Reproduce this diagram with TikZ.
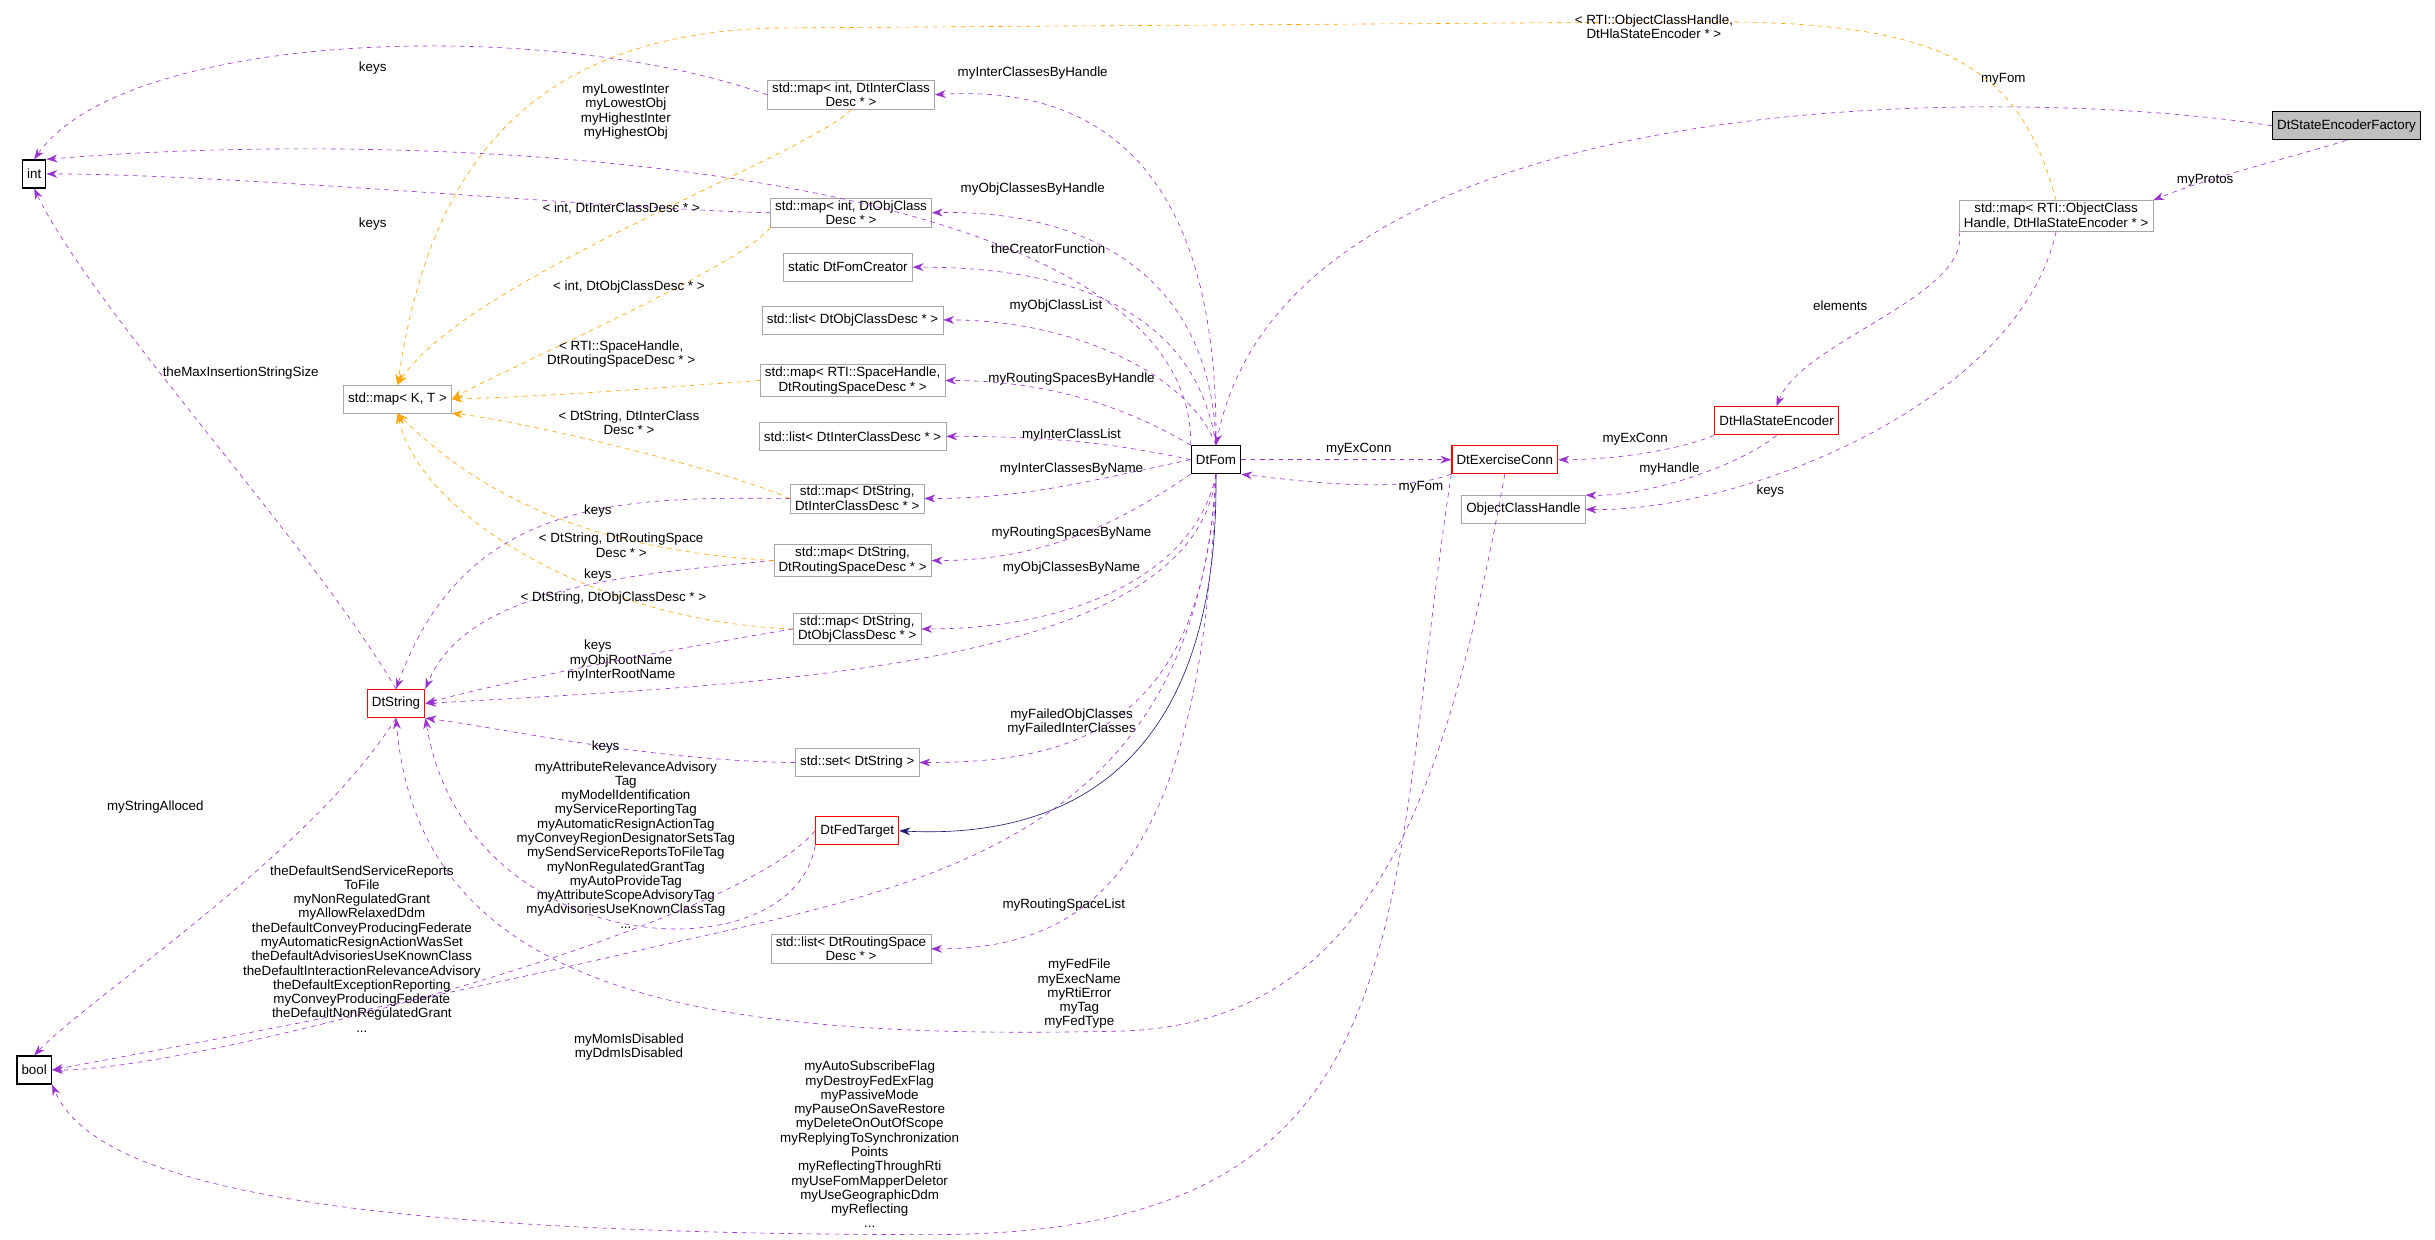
\documentclass[tikz,border=0pt]{standalone}
\usepackage{fontspec}
\setmainfont{Liberation Sans}
\usetikzlibrary{arrows.meta}
\definecolor{depcol}{HTML}{9A32CD}
\definecolor{tplcol}{HTML}{FFA500}
\definecolor{inhcol}{HTML}{191970}
\tikzset{
  box/.style={draw=black!35,inner xsep=3pt,inner ysep=1.5pt,minimum height=18pt,align=center,font=\fontsize{8.6}{9.4}\selectfont},
  cls/.style={box,draw=black,thick},
  red box/.style={box,draw=red,thick},
  lbl/.style={align=center,font=\fontsize{8.6}{9.2}\selectfont,inner sep=0pt},
  dep/.style={depcol,dashed,thin,-{Stealth[length=7pt,width=5pt]}},
  tpl/.style={tplcol,dashed,thin,-{Stealth[length=7pt,width=5pt]}},
  inh/.style={inhcol,thin,-{Stealth[length=7pt,width=5pt]}},
}
\begin{document}
\begin{tikzpicture}[x=1pt,y=-1pt]
\useasboundingbox (0,0) rectangle (1568,798);
% classes
\node[cls,fill=black!25] (fac) at (1511,81) {DtStateEncoderFactory};
\node[cls] (int) at (22,112) {int};
\node[cls] (bool) at (22,689) {bool};
\node[cls] (fom) at (783,296) {DtFom};
\node[red box] (ex) at (969,296) {DtExerciseConn};
\node[red box] (hla) at (1144,271) {DtHlaStateEncoder};
\node[red box] (dstr) at (255,453) {DtString};
\node[red box] (fed) at (552,535) {DtFedTarget};
\node[box] (och) at (981,328) {ObjectClassHandle};
\node[box] (protos) at (1324,139) {std::map\textless{} RTI::ObjectClass\\Handle, DtHlaStateEncoder * \textgreater};
\node[box] (kt) at (256,257) {std::map\textless{} K, T \textgreater};
\node[box] (mi) at (548,61) {std::map\textless{} int, DtInterClass\\Desc * \textgreater};
\node[box] (mo) at (548,137) {std::map\textless{} int, DtObjClass\\Desc * \textgreater};
\node[box] (crt) at (546,172) {static DtFomCreator};
\node[box] (lo) at (549,206) {std::list\textless{} DtObjClassDesc * \textgreater};
\node[box] (mrs) at (549,245) {std::map\textless{} RTI::SpaceHandle,\\DtRoutingSpaceDesc * \textgreater};
\node[box] (li) at (549,281) {std::list\textless{} DtInterClassDesc * \textgreater};
\node[box] (msi) at (552,321) {std::map\textless{} DtString,\\DtInterClassDesc * \textgreater};
\node[box] (msr) at (549,361) {std::map\textless{} DtString,\\DtRoutingSpaceDesc * \textgreater};
\node[box] (mso) at (552,405) {std::map\textless{} DtString,\\DtObjClassDesc * \textgreater};
\node[box] (set) at (552,491) {std::set\textless{} DtString \textgreater};
\node[box] (lrs) at (548,611) {std::list\textless{} DtRoutingSpace\\Desc * \textgreater};
% factory and encoder
\draw[dep] (fac.west) .. controls (1300,55) and (830,50) .. (fom.north);
\node[lbl] at (1290,51) {myFom};
\draw[dep] (fac.south) .. controls (1480,100) and (1420,115) .. (protos.north east);
\node[lbl] at (1420,116) {myProtos};
\draw[dep] (protos.south west) .. controls (1270,190) and (1160,220) .. (hla.north);
\node[lbl] at (1185,197) {elements};
\draw[dep] (protos.south) .. controls (1300,260) and (1120,330) .. (och.east);
\node[lbl] at (1140,316) {keys};
\draw[tpl] (protos.north) .. controls (1300,40) and (1250,14) .. (1100,14) -- (500,18) .. controls (330,22) and (275,120) .. (kt.north);
\node[lbl] at (1065,17) {\textless{} RTI::ObjectClassHandle,\\DtHlaStateEncoder * \textgreater};
\draw[dep] (hla.south west) .. controls (1080,290) and (1040,296) .. (ex.east);
\node[lbl] at (1053,283) {myExConn};
\draw[dep] (hla.south) .. controls (1120,300) and (1060,320) .. (och.north east);
\node[lbl] at (1075,302) {myHandle};
% fom and exercise conn
\draw[dep] (fom.east) -- (ex.west);
\node[lbl] at (875,289) {myExConn};
\draw[dep] (ex.south west) .. controls (900,318) and (840,310) .. (fom.south east);
\node[lbl] at (915,314) {myFom};
\draw[dep] (ex.south) .. controls (930,520) and (880,660) .. (720,664) .. controls (450,670) and (270,640) .. (dstr.south);
\node[lbl] at (695,640) {myFedFile\\myExecName\\myRtiError\\myTag\\myFedType};
\draw[dep] (ex.south west) .. controls (890,600) and (920,795) .. (600,795) .. controls (200,795) and (60,760) .. (bool.south east);
\node[lbl] at (560,737) {myAutoSubscribeFlag\\myDestroyFedExFlag\\myPassiveMode\\myPauseOnSaveRestore\\myDeleteOnOutOfScope\\myReplyingToSynchronization\\Points\\myReflectingThroughRti\\myUseFomMapperDeletor\\myUseGeographicDdm\\myReflecting\\...};
% fom members
\draw[dep] (fom.north west) .. controls (770,110) and (300,80) .. (int.north east);
\node[lbl] at (403,72) {myLowestInter\\myLowestObj\\myHighestInter\\myHighestObj};
\draw[dep] (fom.north) .. controls (785,100) and (700,55) .. (mi.east);
\node[lbl] at (665,47) {myInterClassesByHandle};
\draw[dep] (fom.north) .. controls (780,170) and (690,135) .. (mo.east);
\node[lbl] at (665,122) {myObjClassesByHandle};
\draw[dep] (fom.north) .. controls (770,200) and (690,172) .. (crt.east);
\node[lbl] at (675,160) {theCreatorFunction};
\draw[dep] (fom.north) .. controls (765,240) and (690,206) .. (lo.east);
\node[lbl] at (680,197) {myObjClassList};
\draw[dep] (fom.north west) .. controls (730,265) and (680,245) .. (mrs.east);
\node[lbl] at (690,244) {myRoutingSpacesByHandle};
\draw[dep] (fom.west) .. controls (720,286) and (680,281) .. (li.east);
\node[lbl] at (690,280) {myInterClassList};
\draw[dep] (fom.west) .. controls (700,310) and (660,321) .. (msi.east);
\node[lbl] at (690,302) {myInterClassesByName};
\draw[dep] (fom.south west) .. controls (730,330) and (680,361) .. (msr.east);
\node[lbl] at (690,343) {myRoutingSpacesByName};
\draw[dep] (fom.south) .. controls (770,370) and (690,405) .. (mso.east);
\node[lbl] at (690,366) {myObjClassesByName};
\draw[dep] (fom.south) .. controls (770,430) and (500,440) .. (dstr.east);
\node[lbl] at (400,430) {myObjRootName\\myInterRootName};
\draw[dep] (fom.south) .. controls (775,470) and (690,491) .. (set.east);
\node[lbl] at (690,465) {myFailedObjClasses\\myFailedInterClasses};
\draw[inh] (fom.south) .. controls (785,480) and (700,541) .. (fed.east);
\draw[dep] (fom.south) .. controls (775,560) and (700,611) .. (lrs.east);
\node[lbl] at (685,583) {myRoutingSpaceList};
\draw[dep] (fom.south) .. controls (770,540) and (600,570) .. (420,610) .. controls (250,650) and (80,680) .. (bool.east);
\node[lbl] at (405,674) {myMomIsDisabled\\myDdmIsDisabled};
% fed target
\draw[dep] (fed.south west) .. controls (510,630) and (300,620) .. (dstr.south east);
\node[lbl] at (403,544) {myAttributeRelevanceAdvisory\\Tag\\myModelIdentification\\myServiceReportingTag\\myAutomaticResignActionTag\\myConveyRegionDesignatorSetsTag\\mySendServiceReportsToFileTag\\myNonRegulatedGrantTag\\myAutoProvideTag\\myAttributeScopeAdvisoryTag\\myAdvisoriesUseKnownClassTag\\...};
\draw[dep] (fed.west) .. controls (470,600) and (120,690) .. (bool.east);
\node[lbl] at (233,611) {theDefaultSendServiceReports\\ToFile\\myNonRegulatedGrant\\myAllowRelaxedDdm\\theDefaultConveyProducingFederate\\myAutomaticResignActionWasSet\\theDefaultAdvisoriesUseKnownClass\\theDefaultInteractionRelevanceAdvisory\\theDefaultExceptionReporting\\myConveyProducingFederate\\theDefaultNonRegulatedGrant\\...};
% keys
\draw[dep] (mi.west) .. controls (350,10) and (80,20) .. (int.north);
\node[lbl] at (240,44) {keys};
\draw[dep] (mo.west) .. controls (400,135) and (150,112) .. (int.east);
\node[lbl] at (240,144) {keys};
\draw[dep] (dstr.north) .. controls (200,350) and (60,200) .. (int.south);
\node[lbl] at (155,240) {theMaxInsertionStringSize};
\draw[dep] (dstr.south) .. controls (200,550) and (60,640) .. (bool.north);
\node[lbl] at (100,520) {myStringAlloced};
\draw[dep] (msi.west) .. controls (400,320) and (300,320) .. (dstr.north);
\node[lbl] at (385,329) {keys};
\draw[dep] (msr.west) .. controls (400,370) and (300,380) .. (dstr.north east);
\node[lbl] at (385,370) {keys};
\draw[dep] (mso.west) .. controls (420,420) and (320,440) .. (dstr.east);
\node[lbl] at (385,416) {keys};
\draw[dep] (set.west) .. controls (420,490) and (330,470) .. (dstr.south east);
\node[lbl] at (390,481) {keys};
% templates
\draw[tpl] (mi.south) .. controls (520,100) and (300,180) .. (kt.north);
\node[lbl] at (400,134) {\textless{} int, DtInterClassDesc * \textgreater};
\draw[tpl] (mo.south west) .. controls (480,170) and (320,240) .. (kt.east);
\node[lbl] at (405,185) {\textless{} int, DtObjClassDesc * \textgreater};
\draw[tpl] (mrs.west) .. controls (420,250) and (360,255) .. (kt.east);
\node[lbl] at (400,228) {\textless{} RTI::SpaceHandle,\\DtRoutingSpaceDesc * \textgreater};
\draw[tpl] (msi.west) .. controls (460,300) and (330,270) .. (kt.south east);
\node[lbl] at (405,272) {\textless{} DtString, DtInterClass\\Desc * \textgreater};
\draw[tpl] (msr.west) .. controls (400,355) and (320,330) .. (kt.south);
\node[lbl] at (400,351) {\textless{} DtString, DtRoutingSpace\\Desc * \textgreater};
\draw[tpl] (mso.west) .. controls (380,400) and (270,330) .. (kt.south);
\node[lbl] at (395,385) {\textless{} DtString, DtObjClassDesc * \textgreater};
\end{tikzpicture}
\end{document}
